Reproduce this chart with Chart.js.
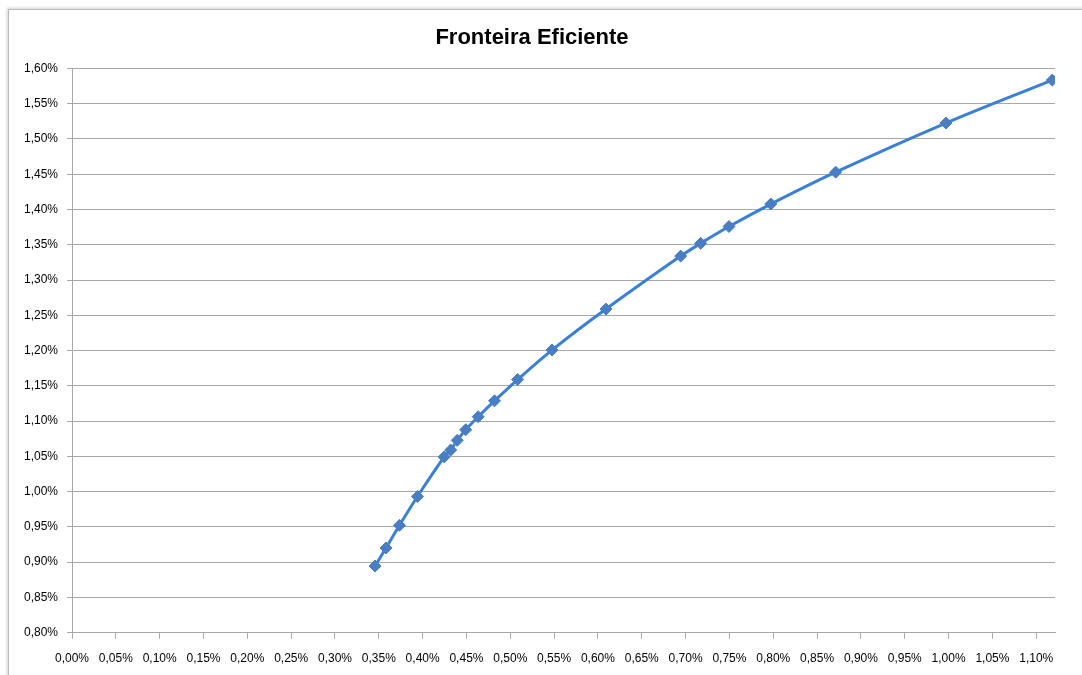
<!DOCTYPE html>
<html>
<head>
<meta charset="utf-8">
<script src="https://cdn.jsdelivr.net/npm/chart.js@4/dist/chart.umd.min.js"></script>
<style>
  html, body { margin: 0; padding: 0; background: #ffffff; overflow: hidden; width: 1082px; height: 675px; }
  #frame {
    position: absolute; left: 8px; top: 9px; width: 1100px; height: 700px;
    border: 1px solid #b9b9b9; box-shadow: -1px -1px 3px rgba(0,0,0,0.18);
    background: #fff;
  }
  #wrap { position: absolute; left: 9px; top: 10px; width: 1077px; height: 665px; }
</style>
</head>
<body>
<div id="frame"></div>
<div id="wrap"><canvas id="chart" width="1077" height="665"></canvas></div>
<script>
// Efficient frontier: portfolio risk (x, %) versus expected return (y, %)
const chartTitle = 'Fronteira Eficiente';
const riskValues = [0.3457, 0.3582, 0.3736, 0.3941, 0.4246, 0.4320, 0.4395, 0.4491, 0.4634, 0.4820,
                    0.5084, 0.5476, 0.6092, 0.6944, 0.7172, 0.7495, 0.7972, 0.8712, 0.9970, 1.1183];
const returnValues = [0.8945, 0.9201, 0.9522, 0.9931, 1.0492, 1.0590, 1.0727, 1.0877, 1.1062, 1.1287,
                      1.1589, 1.2007, 1.2588, 1.3339, 1.3520, 1.3758, 1.4077, 1.4529, 1.5225, 1.5834];
const xAxisRange = [0, 1.1214];
const yAxisRange = [0.80, 1.60];
const tickStep = 0.05;

const points = riskValues.map((x, i) => ({ x: x, y: returnValues[i] }));
const pct = v => Number(v).toFixed(2).replace('.', ',') + '%';
const gridColor = '#a8a8a8';
const labelFont = { family: 'Liberation Sans', size: 12 };

new Chart(document.getElementById('chart'), {
  type: 'scatter',
  data: {
    datasets: [{
      data: points,
      showLine: true,
      tension: 0.35,
      borderColor: '#3a80d8',
      borderWidth: 3,
      pointStyle: 'rectRot',
      pointRadius: 6,
      pointBackgroundColor: '#4a7ec2',
      pointBorderColor: '#4a7ec2',
      pointBorderWidth: 1
    }]
  },
  options: {
    responsive: false,
    animation: false,
    layout: { padding: { left: 0, right: 31, top: 0, bottom: 0 } },
    plugins: {
      legend: { display: false },
      tooltip: { enabled: false },
      title: {
        display: true,
        text: chartTitle,
        color: '#000',
        font: { family: 'Liberation Sans', size: 22, weight: 'bold' },
        padding: { top: 15, bottom: 17 }
      }
    },
    scales: {
      x: {
        type: 'linear',
        min: xAxisRange[0],
        max: xAxisRange[1],
        afterFit: s => { s.height = 42.3; },
        border: { display: true, color: gridColor, width: 1 },
        grid: { drawOnChartArea: false, drawTicks: true, tickLength: 6, color: gridColor },
        ticks: {
          stepSize: tickStep,
          includeBounds: false,
          autoSkip: false,
          maxRotation: 0,
          padding: 13,
          color: '#000',
          font: labelFont,
          callback: v => pct(v)
        }
      },
      y: {
        type: 'linear',
        min: yAxisRange[0],
        max: yAxisRange[1],
        afterFit: s => { s.width = 63; },
        border: { display: true, color: gridColor, width: 1 },
        grid: { drawOnChartArea: true, drawTicks: true, tickLength: 5, color: gridColor },
        ticks: {
          stepSize: tickStep,
          autoSkip: false,
          padding: 9,
          color: '#000',
          font: labelFont,
          callback: v => pct(v)
        }
      }
    }
  }
});
</script>
</body>
</html>
